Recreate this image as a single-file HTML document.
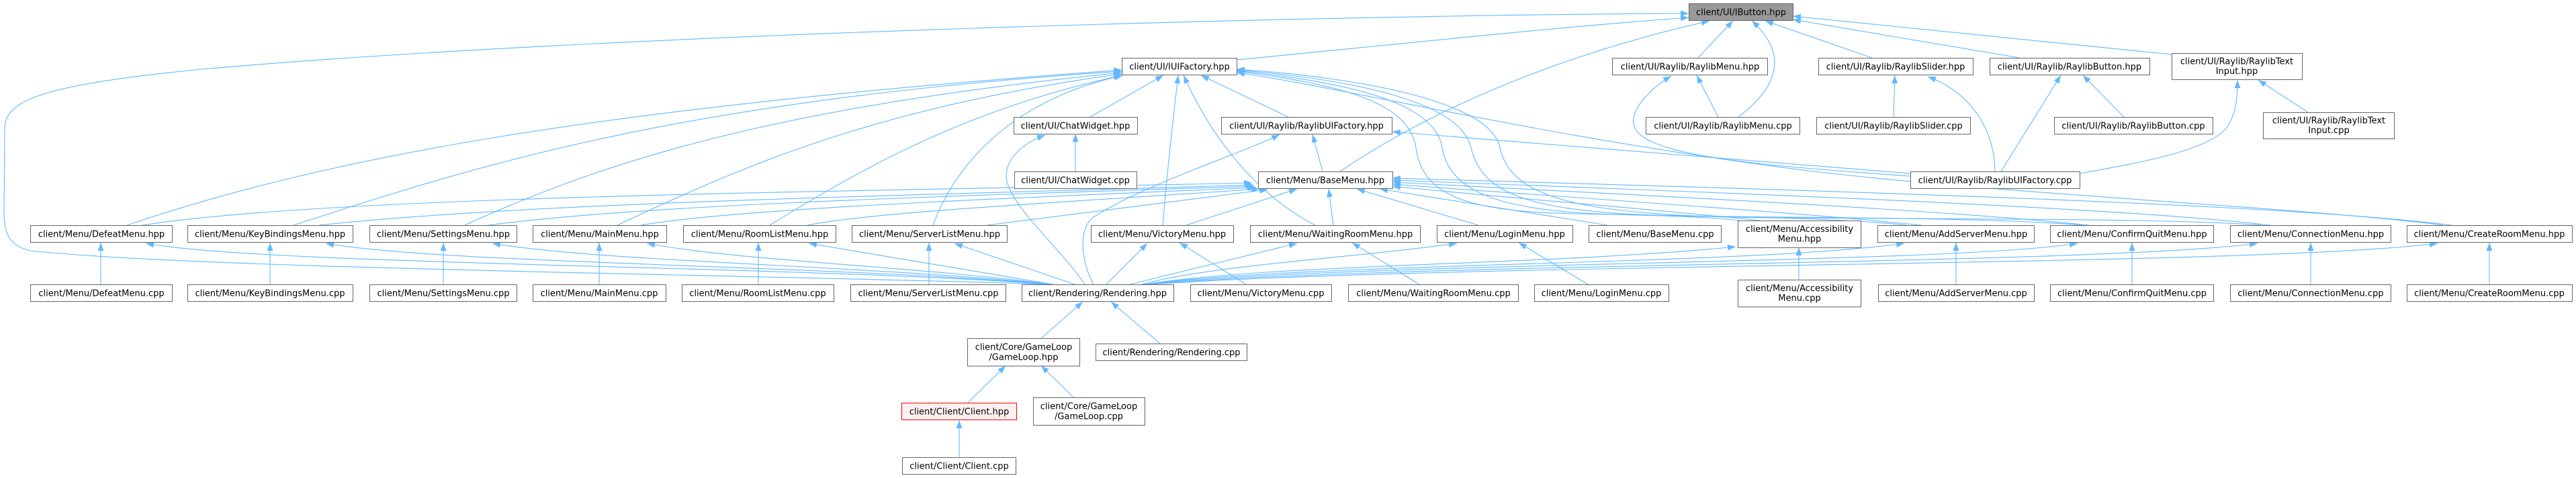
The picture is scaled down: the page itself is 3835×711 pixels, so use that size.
<!DOCTYPE html>
<html><head><meta charset="utf-8"><style>
html,body{margin:0;padding:0;background:#fff;}
svg{display:block;}
text{font-family:"DejaVu Sans","Liberation Sans",sans-serif;font-size:13px;fill:#000;}
.n{fill:#fff;stroke:#666;stroke-width:1;}
.e{fill:none;stroke:#63B8FF;stroke-width:1.1;marker-end:url(#ae);}
.s{fill:none;stroke:#63B8FF;stroke-width:1.1;marker-start:url(#as);}
</style></head><body>
<svg width="3835" height="711" viewBox="0 0 3835 711" xmlns="http://www.w3.org/2000/svg">
<defs>
<marker id="ae" markerWidth="12" markerHeight="9" refX="12" refY="4.5" orient="auto" markerUnits="userSpaceOnUse"><path d="M0,0 L12,4.5 L0,9 z" fill="#63B8FF"/></marker>
<marker id="as" markerWidth="12" markerHeight="9" refX="12" refY="4.5" orient="auto-start-reverse" markerUnits="userSpaceOnUse"><path d="M0,0 L12,4.5 L0,9 z" fill="#63B8FF"/></marker>
</defs>

<!-- edges to IButton -->
<path class="e" d="M1841 89 C 2100 64, 2300 42, 2514 26"/>
<path class="e" d="M1568 423 C 1100 408, 300 400, 45 373 C 12 365, 6 345, 6 315 L 7 190 C 8 145, 80 125, 300 103 C 900 50, 2000 22, 2514 20"/>
<path class="e" d="M1995 255 C 2150 150, 2350 75, 2545 31"/>
<path class="e" d="M2528 86 L2580 31"/>
<path class="e" d="M2588 174 C 2640 135, 2668 85, 2608 31"/>
<path class="e" d="M2787 86 L2628 31"/>
<path class="e" d="M3007 86 C 2900 68, 2780 48, 2669 29"/>
<path class="e" d="M3233 81 L2669 24"/>

<!-- edges to IUIFactory -->
<path class="e" d="M1623 174 L1732 112"/>
<path class="e" d="M1918 174 L1788 112"/>
<path class="e" d="M1731 335 C 1738 250, 1746 180, 1754 112"/>
<path class="e" d="M1958 335 C 1890 300, 1815 230, 1762 112"/>
<path class="e" d="M189 335 C 500 230, 900 160, 1670 104"/>
<path class="e" d="M437 335 C 700 250, 1000 150, 1670 106"/>
<path class="e" d="M692 335 C 900 240, 1150 160, 1670 108"/>
<path class="e" d="M919 335 C 1100 250, 1300 160, 1670 110"/>
<path class="e" d="M1146 335 C 1300 240, 1450 160, 1670 112"/>
<path class="e" d="M1389 335 C 1420 250, 1500 150, 1672 112"/>
<path class="e" d="M3637 335 C 3450 310, 3000 290, 2700 255 C 2300 205, 2000 130, 1841 108"/>
<path class="s" d="M1841 106 C 1990 125, 2098 150, 2108 220 C 2118 290, 2180 315, 2350 318 C 2450 320, 2540 322, 2590 328"/>
<path class="s" d="M1841 105 C 2000 122, 2137 150, 2147 220 C 2160 290, 2240 318, 2450 320 C 2600 322, 2760 326, 2839 335"/>
<path class="s" d="M1841 104 C 2010 118, 2175 150, 2190 220 C 2208 295, 2290 320, 2550 322 C 2800 324, 3000 326, 3100 335"/>
<path class="s" d="M1841 103 C 2020 115, 2220 150, 2233 220 C 2250 295, 2350 322, 2650 324 C 3000 326, 3250 326, 3367 335"/>

<!-- edges to BaseMenu -->
<path class="s" d="M1864 272 C 1300 285, 500 290, 212 335"/>
<path class="s" d="M1866 275 C 1400 290, 800 300, 475 335"/>
<path class="s" d="M1868 277 C 1400 292, 950 305, 727 335"/>
<path class="s" d="M1870 279 C 1500 295, 1100 310, 954 335"/>
<path class="s" d="M1875 281 C 1600 300, 1300 315, 1202 335"/>
<path class="s" d="M1887 282 L1469 335"/>
<path class="s" d="M1931 281 L1766 335"/>
<path class="s" d="M1978 281 L1985 335"/>
<path class="s" d="M2020 281 L2201 335"/>
<path class="s" d="M2054 281 L2393 335"/>
<path class="s" d="M2073 277 C 2250 295, 2450 310, 2620 328"/>
<path class="s" d="M2073 274 C 2400 298, 2700 318, 2860 335"/>
<path class="s" d="M2073 271 C 2500 293, 2900 313, 3110 335"/>
<path class="s" d="M2073 268 C 2600 288, 3150 308, 3380 335"/>
<path class="s" d="M2073 265 C 2700 283, 3400 303, 3650 335"/>

<!-- BaseMenu -> RaylibUIFactory.hpp -->
<path class="s" d="M1954 200 L1969 255"/>

<!-- Rendering -> menus -->
<path class="s" d="M217 362 C 400 395, 1200 395, 1562 423"/>
<path class="s" d="M485 362 C 650 392, 1250 395, 1564 423"/>
<path class="s" d="M733 362 C 900 390, 1300 395, 1566 423"/>
<path class="s" d="M963 362 C 1100 388, 1350 395, 1568 423"/>
<path class="s" d="M1204 362 L1568 423"/>
<path class="s" d="M1421 362 L1600 423"/>
<path class="s" d="M1708 362 L1647 423"/>
<path class="s" d="M1931 362 L1682 423"/>
<path class="s" d="M2169 362 C 2000 385, 1800 395, 1700 423"/>
<path class="s" d="M2584 367 C 2300 395, 1900 392, 1703 423"/>
<path class="s" d="M2835 362 C 2600 395, 1950 390, 1705 423"/>
<path class="s" d="M3093 362 C 2900 393, 2000 390, 1707 423"/>
<path class="s" d="M3361 362 C 3100 395, 2100 390, 1709 423"/>
<path class="s" d="M3629 362 C 3350 397, 2200 390, 1711 423"/>
<path class="s" d="M1556 201 C 1530 210, 1500 230, 1498 260 C 1496 300, 1580 370, 1615 423"/>
<path class="s" d="M1905 200 C 1850 228, 1700 275, 1625 325 C 1605 345, 1610 390, 1628 423"/>

<!-- lower chain -->
<path class="s" d="M1612 449 L1550 503"/>
<path class="s" d="M1654 449 L1727 511"/>
<path class="s" d="M1497 544 L1441 599"/>
<path class="s" d="M1550 544 L1598 591"/>
<path class="s" d="M1428 625 L1428 680"/>

<!-- cpp -> hpp -->
<path class="s" d="M150 361 L150 423"/>
<path class="s" d="M402 361 L402 423"/>
<path class="s" d="M660 361 L660 423"/>
<path class="s" d="M892 361 L892 423"/>
<path class="s" d="M1129 361 L1129 423"/>
<path class="s" d="M1383 361 L1383 423"/>
<path class="s" d="M1756 361 L1855 423"/>
<path class="s" d="M2013 361 L2113 423"/>
<path class="s" d="M2261 361 L2364 423"/>
<path class="s" d="M2678 368 L2678 416"/>
<path class="s" d="M2912 361 L2912 423"/>
<path class="s" d="M3174 361 L3174 423"/>
<path class="s" d="M3440 361 L3440 423"/>
<path class="s" d="M3706 361 L3706 423"/>
<path class="s" d="M1601 199 L1601 255"/>
<path class="s" d="M2526 112 L2558 174"/>
<path class="s" d="M2821 112 L2819 174"/>
<path class="s" d="M3101 112 L3162 174"/>
<path class="s" d="M3362 119 L3436 167"/>

<!-- RaylibUIFactory.cpp edges -->
<path class="s" d="M2073 196 L2844 258"/>
<path class="s" d="M2488 113 C 2460 130, 2428 160, 2432 185 C 2440 230, 2600 245, 2844 262"/>
<path class="s" d="M2870 114 C 2940 140, 2970 200, 2970 255"/>
<path class="s" d="M3068 112 L2979 255"/>
<path class="s" d="M3331 119 C 3331 140, 3330 165, 3318 185 C 3300 220, 3200 240, 3096 258"/>

<!-- nodes -->
<g>
<rect x="2514.5" y="5.5" width="155" height="25" fill="#999999" stroke="#666" stroke-width="1"/><text x="2592" y="22.5" text-anchor="middle">client/UI/IButton.hpp</text>

<rect class="n" x="1670.5" y="86.5" width="171" height="25"/><text x="1756" y="103.5" text-anchor="middle">client/UI/IUIFactory.hpp</text>
<rect class="n" x="2400.5" y="86.5" width="231" height="25"/><text x="2516" y="103.5" text-anchor="middle">client/UI/Raylib/RaylibMenu.hpp</text>
<rect class="n" x="2707.5" y="86.5" width="230" height="25"/><text x="2822" y="103.5" text-anchor="middle">client/UI/Raylib/RaylibSlider.hpp</text>
<rect class="n" x="2962.5" y="86.5" width="238" height="25"/><text x="3081" y="103.5" text-anchor="middle">client/UI/Raylib/RaylibButton.hpp</text>
<rect class="n" x="3233.5" y="79.5" width="194" height="39"/><text x="3330" y="95.5" text-anchor="middle">client/UI/Raylib/RaylibText</text><text x="3330" y="110" text-anchor="middle">Input.hpp</text>

<rect class="n" x="1509.5" y="174.5" width="184" height="25"/><text x="1601" y="191.5" text-anchor="middle">client/UI/ChatWidget.hpp</text>
<rect class="n" x="1818.5" y="174.5" width="254" height="25"/><text x="1945" y="191.5" text-anchor="middle">client/UI/Raylib/RaylibUIFactory.hpp</text>
<rect class="n" x="2450.5" y="174.5" width="229" height="25"/><text x="2565" y="191.5" text-anchor="middle">client/UI/Raylib/RaylibMenu.cpp</text>
<rect class="n" x="2704.5" y="174.5" width="229" height="25"/><text x="2819" y="191.5" text-anchor="middle">client/UI/Raylib/RaylibSlider.cpp</text>
<rect class="n" x="3058.5" y="174.5" width="236" height="25"/><text x="3176" y="191.5" text-anchor="middle">client/UI/Raylib/RaylibButton.cpp</text>
<rect class="n" x="3369.5" y="167.5" width="195" height="39"/><text x="3467" y="183.5" text-anchor="middle">client/UI/Raylib/RaylibText</text><text x="3467" y="198" text-anchor="middle">Input.cpp</text>

<rect class="n" x="1510.5" y="255.5" width="182" height="25"/><text x="1601" y="272.5" text-anchor="middle">client/UI/ChatWidget.cpp</text>
<rect class="n" x="1873.5" y="255.5" width="200" height="25"/><text x="1973" y="272.5" text-anchor="middle">client/Menu/BaseMenu.hpp</text>
<rect class="n" x="2844.5" y="255.5" width="252" height="25"/><text x="2970" y="272.5" text-anchor="middle">client/UI/Raylib/RaylibUIFactory.cpp</text>

<rect class="n" x="45.5" y="335.5" width="211" height="25"/><text x="151" y="352.5" text-anchor="middle">client/Menu/DefeatMenu.hpp</text>
<rect class="n" x="279.5" y="335.5" width="246" height="25"/><text x="402" y="352.5" text-anchor="middle">client/Menu/KeyBindingsMenu.hpp</text>
<rect class="n" x="550.5" y="335.5" width="219" height="25"/><text x="660" y="352.5" text-anchor="middle">client/Menu/SettingsMenu.hpp</text>
<rect class="n" x="793.5" y="335.5" width="199" height="25"/><text x="893" y="352.5" text-anchor="middle">client/Menu/MainMenu.hpp</text>
<rect class="n" x="1017.5" y="335.5" width="227" height="25"/><text x="1131" y="352.5" text-anchor="middle">client/Menu/RoomListMenu.hpp</text>
<rect class="n" x="1268.5" y="335.5" width="231" height="25"/><text x="1384" y="352.5" text-anchor="middle">client/Menu/ServerListMenu.hpp</text>
<rect class="n" x="1624.5" y="335.5" width="212" height="25"/><text x="1730" y="352.5" text-anchor="middle">client/Menu/VictoryMenu.hpp</text>
<rect class="n" x="1861.5" y="335.5" width="253" height="25"/><text x="1988" y="352.5" text-anchor="middle">client/Menu/WaitingRoomMenu.hpp</text>
<rect class="n" x="2139.5" y="335.5" width="202" height="25"/><text x="2240" y="352.5" text-anchor="middle">client/Menu/LoginMenu.hpp</text>
<rect class="n" x="2365.5" y="335.5" width="197" height="25"/><text x="2464" y="352.5" text-anchor="middle">client/Menu/BaseMenu.cpp</text>
<rect class="n" x="2587.5" y="328.5" width="183" height="40"/><text x="2679" y="345" text-anchor="middle">client/Menu/Accessibility</text><text x="2679" y="359.5" text-anchor="middle">Menu.hpp</text>
<rect class="n" x="2795.5" y="335.5" width="233" height="25"/><text x="2912" y="352.5" text-anchor="middle">client/Menu/AddServerMenu.hpp</text>
<rect class="n" x="3052.5" y="335.5" width="243" height="25"/><text x="3174" y="352.5" text-anchor="middle">client/Menu/ConfirmQuitMenu.hpp</text>
<rect class="n" x="3320.5" y="335.5" width="239" height="25"/><text x="3440" y="352.5" text-anchor="middle">client/Menu/ConnectionMenu.hpp</text>
<rect class="n" x="3583.5" y="335.5" width="246" height="25"/><text x="3706" y="352.5" text-anchor="middle">client/Menu/CreateRoomMenu.hpp</text>

<rect class="n" x="45.5" y="423.5" width="211" height="25"/><text x="151" y="440.5" text-anchor="middle">client/Menu/DefeatMenu.cpp</text>
<rect class="n" x="279.5" y="423.5" width="246" height="25"/><text x="402" y="440.5" text-anchor="middle">client/Menu/KeyBindingsMenu.cpp</text>
<rect class="n" x="550.5" y="423.5" width="219" height="25"/><text x="660" y="440.5" text-anchor="middle">client/Menu/SettingsMenu.cpp</text>
<rect class="n" x="793.5" y="423.5" width="198" height="25"/><text x="892" y="440.5" text-anchor="middle">client/Menu/MainMenu.cpp</text>
<rect class="n" x="1015.5" y="423.5" width="226" height="25"/><text x="1128" y="440.5" text-anchor="middle">client/Menu/RoomListMenu.cpp</text>
<rect class="n" x="1266.5" y="423.5" width="231" height="25"/><text x="1382" y="440.5" text-anchor="middle">client/Menu/ServerListMenu.cpp</text>
<rect class="n" x="1521.5" y="423.5" width="226" height="25"/><text x="1634" y="440.5" text-anchor="middle">client/Rendering/Rendering.hpp</text>
<rect class="n" x="1772.5" y="423.5" width="210" height="25"/><text x="1877" y="440.5" text-anchor="middle">client/Menu/VictoryMenu.cpp</text>
<rect class="n" x="2007.5" y="423.5" width="253" height="25"/><text x="2134" y="440.5" text-anchor="middle">client/Menu/WaitingRoomMenu.cpp</text>
<rect class="n" x="2284.5" y="423.5" width="200" height="25"/><text x="2384" y="440.5" text-anchor="middle">client/Menu/LoginMenu.cpp</text>
<rect class="n" x="2587.5" y="416.5" width="183" height="40"/><text x="2679" y="433" text-anchor="middle">client/Menu/Accessibility</text><text x="2679" y="447.5" text-anchor="middle">Menu.cpp</text>
<rect class="n" x="2796.5" y="423.5" width="232" height="25"/><text x="2912" y="440.5" text-anchor="middle">client/Menu/AddServerMenu.cpp</text>
<rect class="n" x="3052.5" y="423.5" width="243" height="25"/><text x="3174" y="440.5" text-anchor="middle">client/Menu/ConfirmQuitMenu.cpp</text>
<rect class="n" x="3320.5" y="423.5" width="239" height="25"/><text x="3440" y="440.5" text-anchor="middle">client/Menu/ConnectionMenu.cpp</text>
<rect class="n" x="3583.5" y="423.5" width="246" height="25"/><text x="3706" y="440.5" text-anchor="middle">client/Menu/CreateRoomMenu.cpp</text>

<rect class="n" x="1440.5" y="503.5" width="167" height="41"/><text x="1524" y="520.5" text-anchor="middle">client/Core/GameLoop</text><text x="1524" y="535.5" text-anchor="middle">/GameLoop.hpp</text>
<rect class="n" x="1631.5" y="511.5" width="225" height="25"/><text x="1744" y="528.5" text-anchor="middle">client/Rendering/Rendering.cpp</text>

<rect x="1342.5" y="599.5" width="171" height="25" fill="#FFF0F0" stroke="#FF0000" stroke-width="1"/><text x="1428" y="616.5" text-anchor="middle">client/Client/Client.hpp</text>
<rect class="n" x="1538.5" y="591.5" width="166" height="41"/><text x="1621" y="608.5" text-anchor="middle">client/Core/GameLoop</text><text x="1621" y="623.5" text-anchor="middle">/GameLoop.cpp</text>

<rect class="n" x="1343.5" y="680.5" width="169" height="25"/><text x="1428" y="697.5" text-anchor="middle">client/Client/Client.cpp</text>
</g>
</svg>
</body></html>
